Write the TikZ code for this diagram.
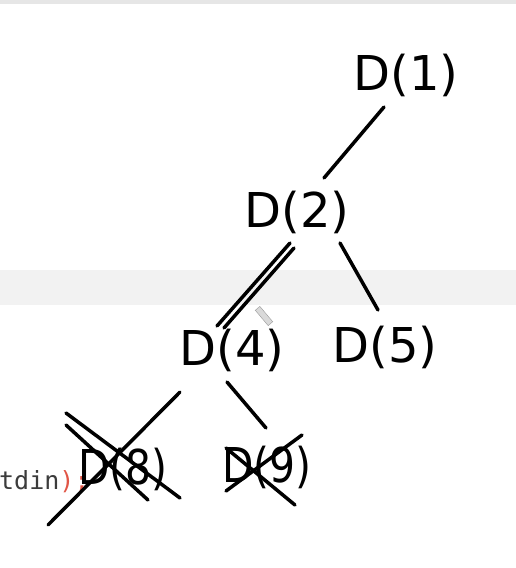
\documentclass[tikz,border=0pt]{standalone}
\usepackage{fontspec}
\newfontfamily\hand{DejaVu Sans}
\newfontfamily\code{DejaVu Sans Mono}
\definecolor{band}{RGB}{242,242,242}
\definecolor{topline}{RGB}{230,230,230}
\definecolor{codegray}{RGB}{60,60,60}
\definecolor{codered}{RGB}{225,85,70}
\begin{document}
\begin{tikzpicture}[x=1pt,y=-1pt,
  lab/.style={font=\hand\fontsize{48}{52}\selectfont, inner sep=0pt, text=black},
  stroke/.style={line width=3.5pt, line cap=round, black}]
\useasboundingbox (0,0) rectangle (516,568);
\fill[white] (0,0) rectangle (516,568);
\fill[topline] (0,0) rectangle (516,4);
\fill[band] (0,270) rectangle (516,305);
% code text
\node[anchor=base west, inner sep=0pt, font=\code\fontsize{25}{27}\selectfont] (code) at (-1,489) {\textcolor{codegray}{tdin}\textcolor{codered}{);}};
% tree nodes
\node[lab] (d1) at (406,75) {D(1)};
\node[lab] (d2) at (297,212) {D(2)};
\node[lab] (d4) at (232,350) {D(4)};
\node[lab] (d5) at (385,347) {D(5)};
\node[lab, xscale=0.85] (d8) at (123,469) {D(8)};
\node[lab, xscale=0.85] (d9) at (267,467) {D(9)};
% edge end points
\coordinate (e1a) at (384,107); \coordinate (e1b) at (324,178);
\coordinate (e2a) at (290,243); \coordinate (e2b) at (217,326);
\coordinate (e2c) at (294,248); \coordinate (e2d) at (224,328);
\coordinate (e3a) at (340,243); \coordinate (e3b) at (378,310);
\coordinate (e4a) at (180,392); \coordinate (e4b) at (48,525);
\coordinate (e5a) at (227,382); \coordinate (e5b) at (266,428);
\draw[stroke] (e1a) -- (e1b);
\draw[stroke] (e2a) -- (e2b);
\draw[stroke] (e2c) -- (e2d);
\draw[stroke] (e3a) -- (e3b);
\draw[stroke] (e4a) -- (e4b);
\draw[stroke] (e5a) -- (e5b);
% cross on D(8)
\coordinate (x8a) at (66,413); \coordinate (x8b) at (180,498);
\coordinate (x8c) at (66,425); \coordinate (x8d) at (148,500);
\draw[stroke] (x8a) -- (x8b);
\draw[stroke] (x8c) -- (x8d);
% cross on D(9)
\coordinate (x9a) at (226,491); \coordinate (x9b) at (302,435);
\coordinate (x9c) at (226,448); \coordinate (x9d) at (295,505);
\draw[stroke] (x9a) -- (x9b);
\draw[stroke] (x9c) -- (x9d);
% eraser cursor
\node[draw=gray!80, fill=gray!30, minimum width=6pt, minimum height=20pt, inner sep=0pt, rotate=40] (cursor) at (264,316) {};
\end{tikzpicture}
\end{document}
